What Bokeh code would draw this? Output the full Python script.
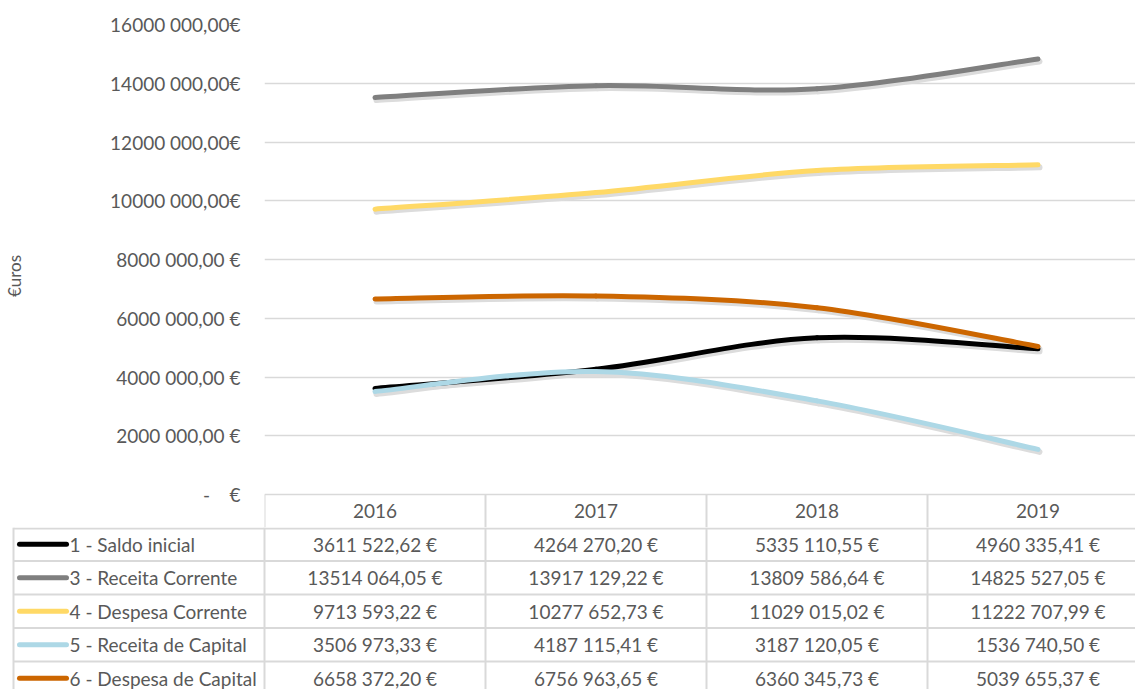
from bokeh.plotting import figure
from bokeh.layouts import column
from bokeh.models import Range1d, FixedTicker
from bokeh.core.properties import value
from bokeh.embed import file_html
from bokeh.resources import INLINE

# ---------------- data ----------------
years = ["2016", "2017", "2018", "2019"]
series_names = ["1 - Saldo inicial", "3 - Receita Corrente", "4 - Despesa Corrente",
                "5 - Receita de Capital", "6 - Despesa de Capital"]
saldo_inicial = [3611522.62, 4264270.20, 5335110.55, 4960335.41]
receita_corrente = [13514064.05, 13917129.22, 13809586.64, 14825527.05]
despesa_corrente = [9713593.22, 10277652.73, 11029015.02, 11222707.99]
receita_capital = [3506973.33, 4187115.41, 3187120.05, 1536740.50]
despesa_capital = [6658372.20, 6756963.65, 6360345.73, 5039655.37]
series_values = [saldo_inicial, receita_corrente, despesa_corrente, receita_capital, despesa_capital]
series_colors = ["#000000", "#7f7f7f", "#ffd966", "#add8e6", "#cc6600"]
y_ticks = [0, 2000000, 4000000, 6000000, 8000000, 10000000, 12000000, 14000000, 16000000]

FONT = "Lato"
FS = "19px"
TXT = "#595959"
GRID = "#d9d9d9"
NB = "\u00a0"


def eur(v, sep=NB):
    cents = int(round(v * 100))
    ip, dp = divmod(cents, 100)
    s = str(ip)
    if len(s) > 3:
        s = s[:-3] + NB + s[-3:]
    return f"{s},{dp:02d}{sep}€"


# ---------------- geometry ----------------
W = 1135
LEFT = 264
COL = 221.0
TOP = 24
PLOT_H = 470.0          # pixels from 16M down to 0
HEAD_H = 33.0           # table header row (drawn in chart figure)
ROW_H = 33.5
TLEFT = 13
YMAX = 16000000
px_y = YMAX / PLOT_H
px_x = 1.0 / COL
frame_w = W - LEFT
xs = [i + 0.5 for i in range(len(years))]

# ---------------- chart (with header row of the table) ----------------
CH = int(TOP + PLOT_H + HEAD_H)
p = figure(width=W, height=CH, output_backend="svg", toolbar_location=None,
           x_range=Range1d(0, frame_w / COL), y_range=Range1d(-HEAD_H * px_y, YMAX),
           min_border_left=LEFT, min_border_right=0, min_border_top=TOP, min_border_bottom=0,
           frame_align=False)
p.outline_line_color = None
p.background_fill_color = "white"
p.border_fill_color = "white"
p.xaxis.visible = False
p.xgrid.grid_line_color = None
p.ygrid.grid_line_color = GRID
p.ygrid.grid_line_width = 1.5

ya = p.yaxis[0]
ya.ticker = FixedTicker(ticks=y_ticks)
ya.major_label_overrides = {
    t: ((eur(t, "") if t >= 10000000 else eur(t)) if t > 0 else "-" + NB * 4 + "€") for t in y_ticks
}
ya.axis_line_color = None
ya.major_tick_line_color = None
ya.minor_tick_line_color = None
ya.major_tick_in = 0
ya.major_tick_out = 0
ya.major_label_standoff = 24
ya.major_label_text_font = FONT
ya.major_label_text_font_size = FS
ya.major_label_text_color = TXT
ya.axis_label = "€uros"
ya.axis_label_text_font = FONT
ya.axis_label_text_font_size = "17px"
ya.axis_label_text_font_style = "normal"
ya.axis_label_text_color = TXT
ya.axis_label_standoff = 82


def smooth_segments(x, y):
    n = len(x)
    P = list(zip(x, y))
    x0, y0, x1, y1, cx0, cy0, cx1, cy1 = ([] for _ in range(8))
    for i in range(n - 1):
        pm = P[i - 1] if i > 0 else P[i]
        p0 = P[i]
        p1 = P[i + 1]
        p2 = P[i + 2] if i + 2 < n else P[i + 1]
        x0.append(p0[0]); y0.append(p0[1])
        x1.append(p1[0]); y1.append(p1[1])
        cx0.append(p0[0] + (p1[0] - pm[0]) / 6.0)
        cy0.append(p0[1] + (p1[1] - pm[1]) / 6.0)
        cx1.append(p1[0] - (p2[0] - p0[0]) / 6.0)
        cy1.append(p1[1] - (p2[1] - p0[1]) / 6.0)
    return dict(x0=x0, y0=y0, x1=x1, y1=y1, cx0=cx0, cy0=cy0, cx1=cx1, cy1=cy1)


# soft shadows first, then the lines
for vals in series_values:
    sh = smooth_segments([x + 1.5 * px_x for x in xs], [v - 2.5 * px_y for v in vals])
    p.bezier(line_color="#dcdcdc", line_width=6, line_cap="round", **sh)
for vals, col in zip(series_values, series_colors):
    seg = smooth_segments(xs, vals)
    p.bezier(line_color=col, line_width=5, line_cap="round", **seg)

# header row: top border is the 0 gridline; vertical separators + year labels
n_edges = len(years) + 1
p.segment(x0=list(range(n_edges)), y0=[0] * n_edges,
          x1=list(range(n_edges)), y1=[-HEAD_H * px_y - px_y] * n_edges,
          line_color=GRID, line_width=2)
p.text(x=xs, y=[-HEAD_H / 2 * px_y] * len(years), text=years,
       text_align="center", text_baseline="middle",
       text_font=value(FONT), text_font_size=FS, text_color=TXT)

# ---------------- table body ----------------
TH = 689 - CH
t = figure(width=W, height=TH, output_backend="svg", toolbar_location=None,
           x_range=Range1d(0, W), y_range=Range1d(TH, 0),
           min_border_left=0, min_border_right=0, min_border_top=0, min_border_bottom=0,
           frame_align=False)
t.outline_line_color = None
t.axis.visible = False
t.grid.grid_line_color = None
t.background_fill_color = "white"
t.border_fill_color = "white"

col_edges = [LEFT + COL * i for i in range(n_edges)]
row_edges = [1] + [ROW_H * (k + 1) for k in range(len(series_names))]

sx0, sy0, sx1, sy1 = [], [], [], []
for ry in row_edges:
    sx0.append(TLEFT); sy0.append(ry); sx1.append(W + 20); sy1.append(ry)
for cx in [TLEFT] + col_edges:
    sx0.append(cx); sy0.append(0); sx1.append(cx); sy1.append(TH + 20)
t.segment(x0=sx0, y0=sy0, x1=sx1, y1=sy1, line_color=GRID, line_width=2)

row_c = [ROW_H * (k + 0.5) for k in range(len(series_names))]
cell_x, cell_y, cell_t = [], [], []
for k, vals in enumerate(series_values):
    for i, v in enumerate(vals):
        cell_x.append(LEFT + COL * (i + 0.5))
        cell_y.append(row_c[k])
        cell_t.append(eur(v))
t.text(x=cell_x, y=cell_y, text=cell_t, text_align="center", text_baseline="middle",
       text_font=value(FONT), text_font_size=FS, text_color=TXT)

t.segment(x0=[19] * len(row_c), y0=row_c, x1=[66] * len(row_c), y1=row_c,
          line_color=series_colors, line_width=5, line_cap="round")
t.text(x=[69] * len(row_c), y=row_c, text=series_names,
       text_align="left", text_baseline="middle",
       text_font=value(FONT), text_font_size=FS, text_color=TXT)

layout = column(p, t, spacing=0)
open("out.html", "w").write(file_html(layout, INLINE))
